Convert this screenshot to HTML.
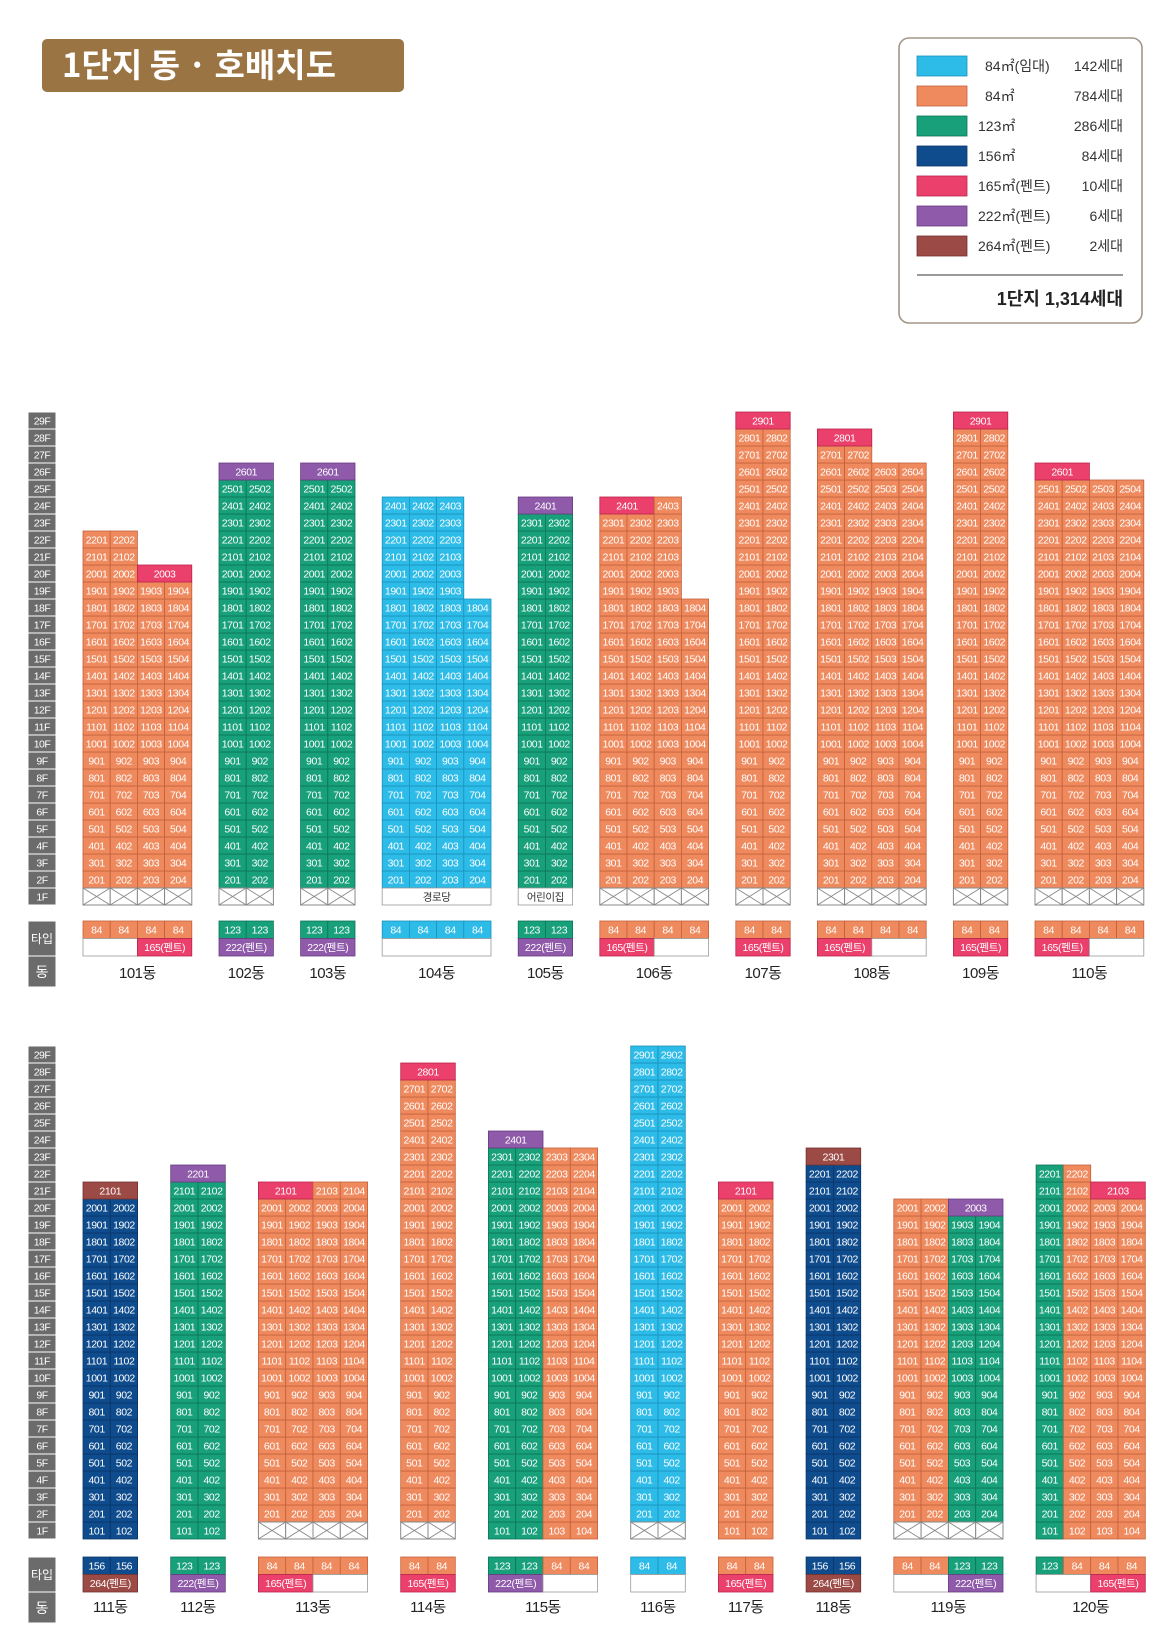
<!DOCTYPE html>
<html><head><meta charset="utf-8">
<style>
html,body{margin:0;padding:0;background:#fff;}
svg{display:block;font-family:"Liberation Sans","Noto Sans CJK KR",sans-serif;}
</style></head>
<body>
<svg id="chart" width="1164" height="1638" viewBox="0 0 1164 1638" xmlns="http://www.w3.org/2000/svg">
  <g>
    <rect x="42" y="39" width="362" height="53" rx="5" fill="#9b7443"/>
    <text x="62" y="77" font-size="33" font-weight="bold" fill="#fff" font-family="'Noto Sans CJK KR',sans-serif">1단지 동 · 호배치도</text>
  </g>
  <g id="legend"></g>
  <g id="blocks"></g>
</svg>
<script>
// ---- data ----
const legendTypes = ['c','o','g','n','p','v','b'];
const legendLabels = ['84㎡(임대)','84㎡','123㎡','156㎡','165㎡(펜트)','222㎡(펜트)','264㎡(펜트)'];
const legendCounts = ['142세대','784세대','286세대','84세대','10세대','6세대','2세대'];
const totalLabel = '1단지 1,314세대';

const typeArea = {c:'84',o:'84',g:'123',n:'156'};
const pentLabel = {p:'165(펜트)',v:'222(펜트)',b:'264(펜트)'};

// building: name, column types, ranges [from,to,units], spans [floor,startCol,span,type], 1F label, type row2 [startCol,span,type]
const topBuildings = [
 {name:'101동',cols:['o','o','o','o'],ranges:[[2,19,4],[20,22,2]],spans:[[20,2,2,'p']],f1:'x',t2:[[0,2,''],[2,2,'p']]},
 {name:'102동',cols:['g','g'],ranges:[[2,25,2]],spans:[[26,0,2,'v']],f1:'x',t2:[[0,2,'v']]},
 {name:'103동',cols:['g','g'],ranges:[[2,25,2]],spans:[[26,0,2,'v']],f1:'x',t2:[[0,2,'v']]},
 {name:'104동',cols:['c','c','c','c'],ranges:[[2,18,4],[19,24,3]],spans:[],f1:'경로당',t2:[[0,4,'']]},
 {name:'105동',cols:['g','g'],ranges:[[2,23,2]],spans:[[24,0,2,'v']],f1:'어린이집',t2:[[0,2,'v']]},
 {name:'106동',cols:['o','o','o','o'],ranges:[[2,18,4],[19,23,3]],spans:[[24,0,2,'p'],[24,2,1,'o']],f1:'x',t2:[[0,2,'p'],[2,2,'']]},
 {name:'107동',cols:['o','o'],ranges:[[2,28,2]],spans:[[29,0,2,'p']],f1:'x',t2:[[0,2,'p']]},
 {name:'108동',cols:['o','o','o','o'],ranges:[[2,26,4],[27,27,2]],spans:[[28,0,2,'p']],f1:'x',t2:[[0,2,'p'],[2,2,'']]},
 {name:'109동',cols:['o','o'],ranges:[[2,28,2]],spans:[[29,0,2,'p']],f1:'x',t2:[[0,2,'p']]},
 {name:'110동',cols:['o','o','o','o'],ranges:[[2,25,4]],spans:[[26,0,2,'p']],f1:'x',t2:[[0,2,'p'],[2,2,'']]}
];
const bottomBuildings = [
 {name:'111동',cols:['n','n'],ranges:[[1,20,2]],spans:[[21,0,2,'b']],f1:null,t2:[[0,2,'b']]},
 {name:'112동',cols:['g','g'],ranges:[[1,21,2]],spans:[[22,0,2,'v']],f1:null,t2:[[0,2,'v']]},
 {name:'113동',cols:['o','o','o','o'],ranges:[[2,20,4]],spans:[[21,0,2,'p'],[21,2,1,'o'],[21,3,1,'o']],f1:'x',t2:[[0,2,'p'],[2,2,'']]},
 {name:'114동',cols:['o','o'],ranges:[[2,27,2]],spans:[[28,0,2,'p']],f1:'x',t2:[[0,2,'p']]},
 {name:'115동',cols:['g','g','o','o'],ranges:[[1,23,4]],spans:[[24,0,2,'v']],f1:null,t2:[[0,2,'v'],[2,2,'']]},
 {name:'116동',cols:['c','c'],ranges:[[2,29,2]],spans:[],f1:'x',t2:[[0,2,'']]},
 {name:'117동',cols:['o','o'],ranges:[[1,20,2]],spans:[[21,0,2,'p']],f1:null,t2:[[0,2,'p']]},
 {name:'118동',cols:['n','n'],ranges:[[1,22,2]],spans:[[23,0,2,'b']],f1:null,t2:[[0,2,'b']]},
 {name:'119동',cols:['o','o','g','g'],ranges:[[2,19,4],[20,20,2]],spans:[[20,2,2,'v']],f1:'x',t2:[[0,2,''],[2,2,'v']]},
 {name:'120동',cols:['g','o','o','o'],ranges:[[1,20,4],[21,22,2]],spans:[[21,2,2,'p']],f1:null,t2:[[0,2,''],[2,2,'p']]}
];

// ---- styles / layout ----
const FILL = {c:'#2dbbe8',o:'#ef8a5e',g:'#17a079',n:'#0f4c8e',p:'#eb3f6c',v:'#8e5aa9',b:'#9c4a46'};
const STROKE = {c:'#1a93bd',o:'#c4603a',g:'#0c7556',n:'#093566',p:'#b9244c',v:'#683c80',b:'#743230'};
const FH = 17;
const blocks = [
 {list:topBuildings, base:905, x0:83, col:27.2, gap:27.2, typeTop:921, dongY:978},
 {list:bottomBuildings, base:1539, x0:83, col:27.3, gap:33.1, typeTop:1557, dongY:1612}
];
const NS='http://www.w3.org/2000/svg';
function mk(tag, attrs, parent){
  const e=document.createElementNS(NS,tag);
  for(const k in attrs) e.setAttribute(k,attrs[k]);
  parent.appendChild(e); return e;
}

// legend
const lg=document.getElementById('legend');
const lbox=mk('rect',{x:899,y:38,width:243,height:285,rx:10,fill:'#fff',stroke:'#a39686','stroke-width':1.6},lg);


legendTypes.forEach((t,i)=>{
  const cy=66+i*30;
  const g=mk('g',{},lg);
  
  
  mk('rect',{x:917,y:cy-10,width:50,height:20,fill:FILL[t],stroke:STROKE[t],'stroke-width':0.8},g);
  const tl=mk('text',{x:i<2?985:978,y:cy+5,'font-size':14,fill:'#333'},g);
  tl.textContent=legendLabels[i];
  const tc=mk('text',{x:1123,y:cy+5,'font-size':14,fill:'#333','text-anchor':'end'},g);
  tc.textContent=legendCounts[i];
});
const ll=mk('line',{x1:917,y1:275,x2:1123,y2:275,stroke:'#333','stroke-width':1},lg);


const tt=mk('text',{x:1123,y:305,'font-size':18,'font-weight':'bold',fill:'#222','text-anchor':'end'},lg);


tt.textContent=totalLabel;

const root=document.getElementById('blocks');
function cell(parent,x,y,w,h,t,label,name){
  const g=mk('g',{},parent);
  
  
  mk('rect',{x:x,y:y,width:w,height:h,fill:t?FILL[t]:'#fff',stroke:t?STROKE[t]:'#999','stroke-width':0.8},g);
  if(label){
    const tx=mk('text',{x:x+w/2,y:y+h/2+3.8,'font-size':10.5,fill:t?'#fff':'#333','text-anchor':'middle','letter-spacing':'-0.4'},g);
    tx.textContent=label;
  }
  return g;
}

blocks.forEach((bk,bi)=>{
  const bg=mk('g',{},root);
  
  
  const yTop=f=>bk.base-f*FH;
  // floor axis
  const ax=mk('g',{},bg);
  
  
  for(let f=1;f<=29;f++){
    const r=mk('rect',{x:28,y:yTop(f),width:28,height:FH,fill:'#6b6b6b',stroke:'#fff','stroke-width':1},ax);
    const t=mk('text',{x:42,y:yTop(f)+FH/2+3.8,'font-size':10.5,fill:'#fff','text-anchor':'middle','letter-spacing':'-0.5'},ax);
    
    
    t.textContent=f+'F';
  }
  const ty=bk.typeTop;
  const tb=mk('rect',{x:28,y:ty,width:28,height:35,fill:'#6b6b6b',stroke:'#fff','stroke-width':1},ax);
  
  
  mk('text',{x:42,y:ty+22,'font-size':12,fill:'#fff','text-anchor':'middle'},ax).textContent='타입';
  const db=mk('rect',{x:28,y:ty+35,width:28,height:31,fill:'#6b6b6b',stroke:'#fff','stroke-width':1},ax);
  
  
  mk('text',{x:42,y:ty+56,'font-size':14,fill:'#fff','text-anchor':'middle'},ax).textContent='동';

  let x=bk.x0;
  bk.list.forEach(b=>{
    const n=b.cols.length, cw=bk.col, W=n*cw;
    const g=mk('g',{},bg);
    
    
    b.ranges.forEach(r=>{
      for(let f=r[0];f<=r[1];f++) for(let c=0;c<r[2];c++)
        cell(g,x+c*cw,yTop(f),cw,FH,b.cols[c],String(f*100+c+1),'unit-cell');
    });
    b.spans.forEach(s=>{
      cell(g,x+s[1]*cw,yTop(s[0]),cw*s[2],FH,s[3],String(s[0]*100+s[1]+1),'penthouse-cell');
    });
    if(b.f1==='x'){
      for(let c=0;c<n;c++){
        const cx=x+c*cw, cy=yTop(1);
        const xg=mk('g',{},g);
        
        
        mk('rect',{x:cx,y:cy,width:cw,height:FH,fill:'#fff',stroke:'#888','stroke-width':1},xg);
        mk('path',{d:`M${cx} ${cy}L${cx+cw} ${cy+FH}M${cx+cw} ${cy}L${cx} ${cy+FH}`,stroke:'#888','stroke-width':0.9,fill:'none'},xg);
      }
    } else if(b.f1){
      const fg=cell(g,x,yTop(1),W,FH,'',b.f1,'amenity-cell');
      fg.querySelector('text').setAttribute('font-family',"'Noto Sans CJK KR',sans-serif");
    }
    // type rows
    const tg=mk('g',{},g);
    
    
    b.cols.forEach((t,c)=>cell(tg,x+c*cw,ty,cw,17.5,t,typeArea[t],'type-cell'));
    b.t2.forEach(s=>cell(tg,x+s[0]*cw,ty+17.5,cw*s[1],17.5,s[2]||'',s[2]?pentLabel[s[2]]:'','penthouse-type-cell'));
    const dl=mk('text',{x:x+W/2,y:bk.dongY,'font-size':15,fill:'#222','text-anchor':'middle','letter-spacing':'-0.5'},g);
    
    
    dl.textContent=b.name;
    x+=W+bk.gap;
  });
});
</script>
</body></html>
